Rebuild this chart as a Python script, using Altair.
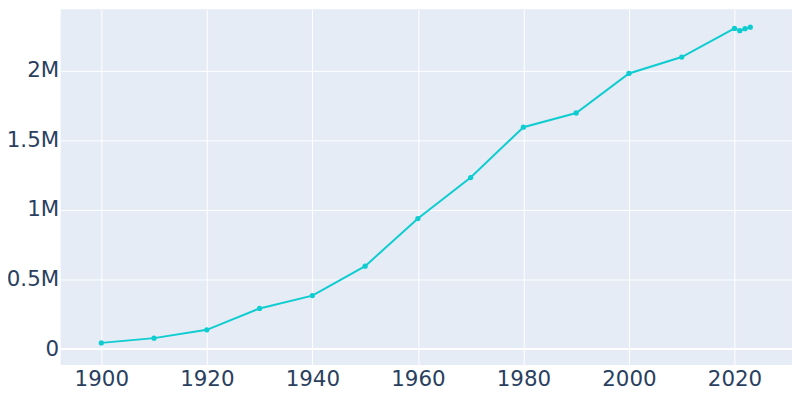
import altair as alt
import pandas as pd

years = [1900, 1910, 1920, 1930, 1940, 1950, 1960, 1970, 1980, 1990, 2000, 2010, 2020, 2021, 2022, 2023]
population = [44600, 78800, 138300, 292400, 384500, 596200, 938200, 1232800, 1595100, 1697000,
              1981000, 2099500, 2304600, 2288300, 2302900, 2314200]

df = pd.DataFrame({"year": years, "population": population})

FONT = "DejaVu Sans"
TEXT = "#2a3f5f"
COLOR = "#0FCCD0"
YDOM = [-114000, 2443000]

x = alt.X("year:Q", scale=alt.Scale(domain=[1892.3, 2030.9], nice=False, zero=False),
          axis=alt.Axis(values=[1900, 1920, 1940, 1960, 1980, 2000, 2020], format="d",
                        title=None, labelFontSize=21.5, labelColor=TEXT, labelFont=FONT,
                        domain=False, ticks=False, labelPadding=4,
                        grid=True, gridColor="white", gridWidth=1))
y = alt.Y("population:Q", scale=alt.Scale(domain=YDOM, nice=False, zero=False),
          axis=alt.Axis(values=[0, 500000, 1000000, 1500000, 2000000],
                        labelExpr="datum.value == 0 ? '0' : format(datum.value / 1e6, '~g') + 'M'",
                        title=None, labelFontSize=21.5, labelColor=TEXT, labelFont=FONT,
                        domain=False, ticks=False, labelPadding=2,
                        grid=True, gridColor="white", gridWidth=1))

zero = alt.Chart(pd.DataFrame({"z": [0]})).mark_rule(color="white", strokeWidth=2).encode(
    y=alt.Y("z:Q", scale=alt.Scale(domain=YDOM, nice=False, zero=False))
)

line = alt.Chart(df).mark_line(color=COLOR, strokeWidth=2).encode(x=x, y=y)
pts = alt.Chart(df).mark_point(color=COLOR, filled=True, opacity=1, size=28).encode(x=x, y=y)

chart = alt.layer(zero, line, pts).properties(
    width=736, height=358,
    padding={"left": 53, "top": 0, "right": 0, "bottom": 26},
    autosize=alt.AutoSizeParams(type="none"),
    background="white",
).configure_view(fill="#E5ECF6", stroke=None)

chart.save("out.html", embed_options={"renderer": "svg", "actions": False})
